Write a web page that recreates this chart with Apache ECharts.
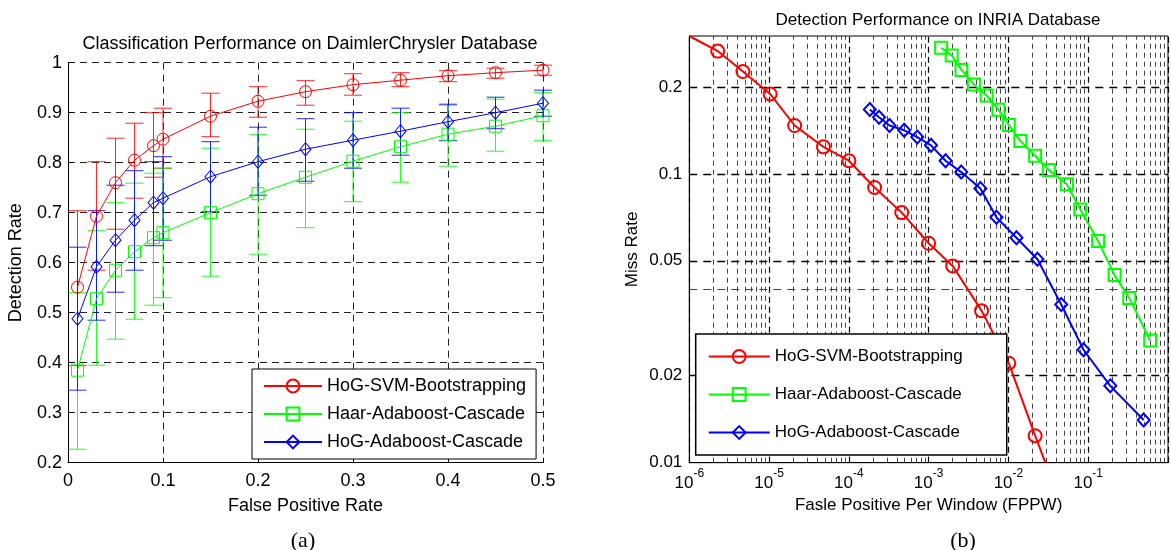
<!DOCTYPE html>
<html><head><meta charset="utf-8">
<script src="https://cdn.jsdelivr.net/npm/echarts@6/dist/echarts.min.js"></script>
<style>html,body{margin:0;padding:0;background:#fff}#c{width:1171px;height:550px}</style>
</head><body><div id="c"></div>
<script>
// ---------- (a) DaimlerChrysler: detection rate vs false positive rate ----------
const fprA        = [0.01, 0.03, 0.05, 0.07, 0.09, 0.1, 0.15, 0.2, 0.25, 0.3, 0.35, 0.4, 0.45, 0.5];
const svmMeanA    = [0.551, 0.693, 0.76, 0.805, 0.834, 0.847, 0.893, 0.923, 0.942, 0.956, 0.965, 0.974, 0.98, 0.985];
const svmHighA    = [0.704, 0.802, 0.849, 0.879, 0.9, 0.909, 0.939, 0.952, 0.964, 0.978, 0.98, 0.984, 0.989, 0.995];
const svmLowA     = [0.394, 0.585, 0.667, 0.729, 0.771, 0.789, 0.852, 0.891, 0.915, 0.935, 0.952, 0.962, 0.969, 0.975];
const haarMeanA   = [0.385, 0.528, 0.585, 0.622, 0.65, 0.66, 0.7, 0.738, 0.771, 0.803, 0.832, 0.857, 0.873, 0.894];
const haarHighA   = [0.54, 0.664, 0.72, 0.759, 0.779, 0.789, 0.829, 0.856, 0.867, 0.883, 0.9, 0.915, 0.927, 0.94];
const haarLowA    = [0.227, 0.395, 0.447, 0.487, 0.515, 0.53, 0.573, 0.617, 0.67, 0.722, 0.761, 0.793, 0.823, 0.844];
const hogAdaMeanA = [0.488, 0.592, 0.645, 0.685, 0.72, 0.729, 0.772, 0.802, 0.827, 0.845, 0.863, 0.882, 0.9, 0.919];
const hogAdaHighA = [0.631, 0.704, 0.755, 0.784, 0.802, 0.812, 0.842, 0.871, 0.888, 0.9, 0.909, 0.917, 0.931, 0.945];
const hogAdaLowA  = [0.345, 0.485, 0.541, 0.585, 0.634, 0.645, 0.702, 0.735, 0.763, 0.789, 0.815, 0.844, 0.868, 0.893];

// ---------- (b) INRIA: miss rate vs FPPW (log-log) ----------
const svmFppwB    = [1e-6, 2.27e-6, 4.7e-6, 1.03e-5, 2.09e-5, 4.8e-5, 1.0e-4, 2.1e-4, 4.6e-4, 1.0e-3, 2.0e-3, 4.6e-3, 1.01e-2, 2.16e-2, 2.9e-2];
const svmMissB    = [0.3, 0.266, 0.226, 0.189, 0.147, 0.124, 0.111, 0.0897, 0.0734, 0.0575, 0.048, 0.0336, 0.0221, 0.0124, 0.01];
const svmHiddenMarkB = [0, 14]; // indices where the curve enters / leaves the axes (no marker)
const haarFppwB   = [1.435e-3, 1.945e-3, 2.58e-3, 3.69e-3, 5.33e-3, 7.5e-3, 1.01e-2, 1.41e-2, 2.16e-2, 3.21e-2, 5.4e-2, 7.94e-2, 0.133, 0.214, 0.327, 0.598];
const haarMissB   = [0.273, 0.257, 0.229, 0.204, 0.1866, 0.1667, 0.1476, 0.130, 0.1155, 0.103, 0.092, 0.0753, 0.0585, 0.0446, 0.0372, 0.0265];
const hogAdaFppwB = [1.83e-4, 2.39e-4, 3.23e-4, 4.94e-4, 7.2e-4, 1.07e-3, 1.63e-3, 2.56e-3, 4.45e-3, 7.08e-3, 1.26e-2, 2.31e-2, 4.59e-2, 8.73e-2, 0.189, 0.495];
const hogAdaMissB = [0.167, 0.157, 0.147, 0.1415, 0.134, 0.1255, 0.111, 0.1014, 0.0889, 0.0707, 0.0601, 0.0506, 0.0353, 0.0246, 0.01845, 0.01406];

const missTicksB      = [0.01, 0.02, 0.05, 0.1, 0.2];
const missTickMarksB  = [0.01, 0.02, 0.04, 0.05, 0.1, 0.2];
const missGridMajorB  = [0.02, 0.05, 0.1, 0.2];
const missGridMinorB  = [0.04];
const fppwDecadesB    = [-6, -5, -4, -3, -2, -1, 0];
const fppwMinorMultB  = [2, 3, 4, 5, 6, 7, 8, 9];

const names = ['HoG-SVM-Bootstrapping', 'Haar-Adaboost-Cascade', 'HoG-Adaboost-Cascade'];
const RED = '#ff0000', GREEN = '#00ff00', BLUE = '#0000ff';
const FONT = '"Liberation Sans", Arial, Helvetica, sans-serif';

const pairs = (xs, ys) => xs.map((x, i) => [x, ys[i]]);

function errSeries(id, color, lo, hi) {
  return {
    type: 'custom', name: id, xAxisIndex: 0, yAxisIndex: 0, silent: true, z: 2,
    encode: { x: 0, y: [1, 2] },
    data: fprA.map((x, i) => [x, lo[i], hi[i]]),
    renderItem: (params, api) => {
      const x = api.value(0);
      const a = api.coord([x, api.value(1)]);
      const b = api.coord([x, api.value(2)]);
      const w = 9;
      const st = { stroke: color, lineWidth: 1, opacity: 0.85 };
      return { type: 'group', children: [
        { type: 'line', shape: { x1: a[0], y1: a[1], x2: b[0], y2: b[1] }, style: st },
        { type: 'line', shape: { x1: a[0] - w, y1: a[1], x2: a[0] + w, y2: a[1] }, style: st },
        { type: 'line', shape: { x1: b[0] - w, y1: b[1], x2: b[0] + w, y2: b[1] }, style: st }
      ]};
    }
  };
}
function lineA(name, color, ys, symbol, size) {
  return {
    type: 'line', name, xAxisIndex: 0, yAxisIndex: 0, data: pairs(fprA, ys), z: 3,
    symbol, symbolSize: size, showAllSymbol: true, silent: true,
    lineStyle: { color, width: 1 },
    itemStyle: { color: 'transparent', borderColor: color, borderWidth: 1 },
    emphasis: { disabled: true }
  };
}
function lineB(name, color, data, symbol, size) {
  return {
    type: 'line', name, xAxisIndex: 1, yAxisIndex: 1, data, z: 3, clip: true,
    symbol, symbolSize: size, showAllSymbol: true, silent: true,
    lineStyle: { color, width: 2 },
    itemStyle: { color: 'transparent', borderColor: color, borderWidth: 2 },
    emphasis: { disabled: true }
  };
}

const svmDataB = svmFppwB.map((x, i) => svmHiddenMarkB.includes(i)
  ? { value: [x, svmMissB[i]], symbol: 'none' } : [x, svmMissB[i]]);

const gridMarks = [];
fppwDecadesB.forEach(e => gridMarks.push({ xAxis: Math.pow(10, e), lineStyle: { color: '#000', type: [6, 4], width: 1.2 } }));
fppwDecadesB.filter(e => e < 0).forEach(e => fppwMinorMultB.forEach(m =>
  gridMarks.push({ xAxis: m * Math.pow(10, e), lineStyle: { color: '#444', type: [5, 4], width: 1 } })));
missGridMajorB.forEach(v => gridMarks.push({ yAxis: v, lineStyle: { color: '#000', type: [8, 6], width: 1.3 } }));
missGridMinorB.forEach(v => gridMarks.push({ yAxis: v, lineStyle: { color: '#444', type: [8, 6], width: 1 } }));

const axisText = (size) => ({ color: '#000', fontFamily: FONT, fontSize: size });
const fmtNum = v => String(parseFloat(Number(v).toPrecision(6)));

const option = {
  animation: false,
  backgroundColor: '#fff',
  title: [
    { text: 'Classification Performance on DaimlerChrysler Database', left: 305, top: 30, textAlign: 'center',
      textStyle: { fontFamily: FONT, fontSize: 18, fontWeight: 'normal', color: '#000' } },
    { text: 'Detection Performance on INRIA Database', left: 933, top: 7, textAlign: 'center',
      textStyle: { fontFamily: FONT, fontSize: 17, fontWeight: 'normal', color: '#000' } },
    { text: '(a)', left: 298, top: 525, textAlign: 'center',
      textStyle: { fontFamily: '"Liberation Serif", "Times New Roman", serif', fontSize: 22, fontWeight: 'normal', color: '#000' } },
    { text: '(b)', left: 958, top: 525, textAlign: 'center',
      textStyle: { fontFamily: '"Liberation Serif", "Times New Roman", serif', fontSize: 22, fontWeight: 'normal', color: '#000' } }
  ],
  grid: [
    { left: 68, top: 62.7, width: 475, height: 400, containLabel: false },
    { left: 689.3, top: 36, width: 487.8, height: 426.7, containLabel: false, show: true,
      borderColor: '#000', borderWidth: 1, backgroundColor: 'transparent' }
  ],
  legend: [
    { data: names, orient: 'vertical', left: 252, top: 369, backgroundColor: '#fff', borderColor: '#000', borderWidth: 1,
      borderRadius: 0, padding: [8, 10, 8, 11], itemGap: 10, itemWidth: 58, itemHeight: 16,
      textStyle: { fontFamily: FONT, fontSize: 18, color: '#000' }, selectedMode: false, z: 10 },
    { data: names.map(n => ({ name: n, lineStyle: { width: 2 }, itemStyle: { borderWidth: 2 } })),
      orient: 'vertical', left: 695.7, top: 334, backgroundColor: '#fff', borderColor: '#000', borderWidth: 1.5,
      borderRadius: 0, padding: [14, 44, 14, 12], itemGap: 21, itemWidth: 61, itemHeight: 16,
      textStyle: { fontFamily: FONT, fontSize: 17, color: '#000' }, selectedMode: false, z: 10 }
  ],
  xAxis: [
    { type: 'value', gridIndex: 0, min: 0, max: 0.5, interval: 0.1,
      name: 'False Positive Rate', nameLocation: 'middle', nameGap: 34, nameTextStyle: axisText(18),
      axisLine: { lineStyle: { color: '#000', width: 1 } },
      axisTick: { inside: true, length: 5, lineStyle: { color: '#000' } },
      axisLabel: { ...axisText(18), margin: 9 },
      splitLine: { show: true, lineStyle: { color: '#222', type: [7, 5], width: 1 } } },
    { type: 'log', gridIndex: 1, logBase: 10, min: 1e-6, max: 1,
      name: 'Fasle Positive Per Window (FPPW)', nameLocation: 'middle', nameGap: 31, nameTextStyle: axisText(17),
      axisLine: { lineStyle: { color: '#000', width: 1 } },
      axisTick: { inside: true, length: 6, lineStyle: { color: '#000' } },
      axisLabel: {
        margin: 5,
        formatter: v => { const e = Math.round(Math.log10(v)); return e >= 0 ? '' : '{b|10}{s|' + e + '}'; },
        rich: {
          b: { fontFamily: FONT, fontSize: 17, color: '#000', verticalAlign: 'bottom', lineHeight: 24 },
          s: { fontFamily: FONT, fontSize: 12, color: '#000', verticalAlign: 'top', lineHeight: 24 }
        }
      },
      splitLine: { show: false } }
  ],
  yAxis: [
    { type: 'value', gridIndex: 0, min: 0.2, max: 1, interval: 0.1,
      name: 'Detection Rate', nameLocation: 'middle', nameGap: 43, nameTextStyle: axisText(18),
      axisLine: { show: true, lineStyle: { color: '#000', width: 1 } },
      axisTick: { show: true, inside: true, length: 5, lineStyle: { color: '#000' } },
      axisLabel: { ...axisText(18), margin: 6, formatter: fmtNum },
      splitLine: { show: true, lineStyle: { color: '#222', type: [7, 5], width: 1 } } },
    { type: 'log', gridIndex: 1, logBase: 10, min: 0.01, max: 0.3,
      name: 'Miss Rate', nameLocation: 'middle', nameGap: 48, nameTextStyle: axisText(17),
      axisLine: { show: true, lineStyle: { color: '#000', width: 1 } },
      axisTick: { show: true, inside: true, length: 7, lineStyle: { color: '#000' }, customValues: missTickMarksB },
      axisLabel: { ...axisText(17), margin: 7, formatter: fmtNum, customValues: missTicksB },
      splitLine: { show: false } }
  ],
  series: [
    errSeries('err-svm', RED, svmLowA, svmHighA),
    errSeries('err-haar', GREEN, haarLowA, haarHighA),
    errSeries('err-hogada', BLUE, hogAdaLowA, hogAdaHighA),
    lineA(names[0], RED, svmMeanA, 'circle', 12),
    lineA(names[1], GREEN, haarMeanA, 'rect', 12),
    lineA(names[2], BLUE, hogAdaMeanA, 'diamond', [11, 13]),
    { type: 'line', name: 'grid-b', xAxisIndex: 1, yAxisIndex: 1, data: [], silent: true, z: 1,
      markLine: { silent: true, symbol: ['none', 'none'], label: { show: false }, z: 1, animation: false,
        precision: 12, emphasis: { disabled: true }, data: gridMarks } },
    lineB(names[0], RED, svmDataB, 'circle', 13),
    lineB(names[1], GREEN, pairs(haarFppwB, haarMissB), 'rect', 12),
    lineB(names[2], BLUE, pairs(hogAdaFppwB, hogAdaMissB), 'diamond', [12, 13])
  ]
};
const chart = echarts.init(document.getElementById('c'));
chart.setOption(option);
</script>
</body></html>
